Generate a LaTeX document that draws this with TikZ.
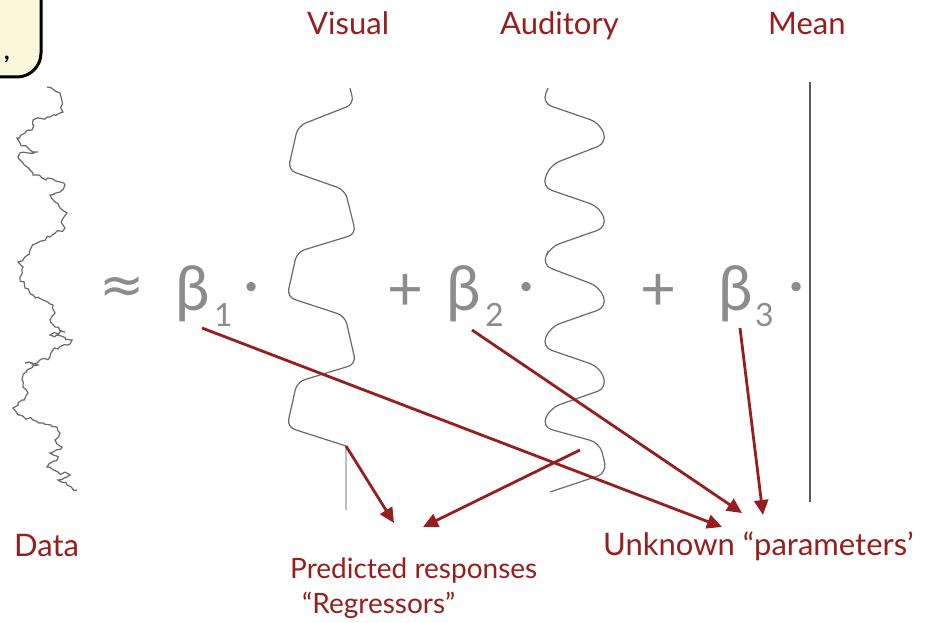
\documentclass[tikz,border=0pt]{standalone}
\usepackage{fontspec}
\setmainfont{Lato}
\newfontfamily\dejavu{DejaVu Sans}
\usetikzlibrary{arrows.meta,decorations.pathmorphing}
\definecolor{lblred}{RGB}{150,30,30}
\definecolor{eqgray}{RGB}{140,140,140}
\definecolor{curvegray}{RGB}{105,105,105}
\definecolor{boxyellow}{RGB}{250,248,218}
\begin{document}
\begin{tikzpicture}[x=1pt,y=-1pt,
  lbl/.style={text=lblred, inner sep=0pt, anchor=base west, font=\fontsize{31}{34}\selectfont},
  smalllbl/.style={lbl, font=\fontsize{28}{32}\selectfont},
  eqtxt/.style={text=eqgray, inner sep=0pt, anchor=base west, font=\fontsize{62}{66}\selectfont},
  subtxt/.style={text=eqgray, inner sep=0pt, anchor=base west, font=\fontsize{32}{36}\selectfont},
  wave/.style={draw=curvegray, line width=1.2pt, rounded corners=8pt},
  arr/.style={draw=lblred, line width=2.8pt, -{Triangle[length=15pt,width=14pt]}},
]
\pgfmathsetseed{4242}
\useasboundingbox (0,0) rectangle (930,623);
\begin{scope}
\clip (0,0) rectangle (930,623);
\draw[fill=boxyellow, draw=black, line width=3pt, rounded corners=24pt] (-80,-40) rectangle (41,77);
\end{scope}
\node[inner sep=0pt, anchor=base west, font=\fontsize{24}{28}\selectfont\bfseries] (comma) at (4,60) {,};

% headers
\node[lbl] (hvis) at (307,35) {Visual};
\node[lbl] (haud) at (500,35) {Auditory};
\node[lbl] (hmean) at (768,35) {Mean};

% data trace
\draw[draw=curvegray, line width=1.2pt, decorate, decoration={random steps, segment length=3.5pt, amplitude=1.8pt}] (47,87) -- (60,93) -- (63,112) -- (50,117) -- (33,120) -- (32,130) -- (25,133) -- (17,138) -- (20,143) -- (30,150) -- (38,152) -- (20,153) -- (18,157) -- (23,163) -- (30,170) -- (33,175) -- (42,178) -- (60,182) -- (65,185) -- (62,190) -- (50,195) -- (55,202) -- (60,208) -- (67,213) -- (62,220) -- (65,228) -- (50,237) -- (37,243) -- (30,250) -- (25,257) -- (18,262) -- (23,267) -- (20,277) -- (25,288) -- (33,295) -- (43,300) -- (53,305) -- (55,313) -- (50,320) -- (55,327) -- (65,332) -- (50,335) -- (72,340) -- (68,345) -- (53,350) -- (50,357) -- (37,363) -- (25,363) -- (38,365) -- (27,370) -- (22,380) -- (23,387) -- (28,393) -- (22,400) -- (13,408) -- (20,415) -- (33,420) -- (43,423) -- (57,427) -- (60,433) -- (55,440) -- (62,447) -- (50,453) -- (58,458) -- (47,467) -- (58,472) -- (70,475) -- (58,480) -- (67,485) -- (77,490);

% visual regressor
\draw[wave] (350,88) -- (354,104) -- (298,126) -- (288,170) -- (345,190) -- (356,234) -- (297,252) -- (287,297) -- (345,316) -- (356,364) -- (297,382) -- (287,427) -- (346,446);
\draw[draw=black!25, line width=1.6pt] (346,446) -- (346,510);

% auditory regressor
\draw[wave, rounded corners=10pt] (548,88) -- (542,103) -- (600,123) -- (607,143) -- (550,165) -- (542,187) -- (600,207) -- (607,227) -- (550,247) -- (542,265) -- (600,287) -- (607,307) -- (550,327) -- (542,347) -- (600,367) -- (607,388) -- (550,408) -- (542,427) -- (600,443) -- (607,473) -- (550,492);

% mean regressor
\draw[draw=black!65, line width=1.6pt] (810,82) -- (810,502);

% equation
\node[text=eqgray, inner sep=0pt, font=\dejavu\fontsize{54}{58}\selectfont] (approx) at (122,290) {≈};
\node[eqtxt] (beta1) at (175,310) {β};
\node[subtxt] (sub1) at (214,326) {1};
\node[eqtxt] (dot1) at (243,305) {·};
\node[eqtxt] (plus1) at (387,310) {+};
\node[eqtxt] (beta2) at (446,310) {β};
\node[subtxt] (sub2) at (485,326) {2};
\node[eqtxt] (dot2) at (518,305) {·};
\node[eqtxt] (plus2) at (640,310) {+};
\node[eqtxt] (beta3) at (718,310) {β};
\node[subtxt] (sub3) at (755,326) {3};
\node[eqtxt] (dot3) at (788,305) {·};

% labels
\node[lbl] (data) at (14,556) {Data};
\node[smalllbl] (pred) at (290,578) {Predicted responses};
\node[smalllbl] (regr) at (302,613) {“Regressors”};
\node[lbl] (param) at (603,555) {Unknown “parameters’};

% arrow ends
\coordinate (b1foot) at (202,328);
\coordinate (b2foot) at (472,330);
\coordinate (b3foot) at (740,328);
\coordinate (visfoot) at (346,446);
\coordinate (audfoot) at (580,450);
\coordinate (ptipA) at (722,527);
\coordinate (ptipB) at (742,513);
\coordinate (ptipC) at (763,515);
\coordinate (rtipA) at (394,523);
\coordinate (rtipB) at (423,527);

\draw[arr] (b1foot) -- (ptipA);
\draw[arr] (b2foot) -- (ptipB);
\draw[arr] (b3foot) -- (ptipC);
\draw[arr] (visfoot) -- (rtipA);
\draw[arr] (audfoot) -- (rtipB);
\end{tikzpicture}
\end{document}
